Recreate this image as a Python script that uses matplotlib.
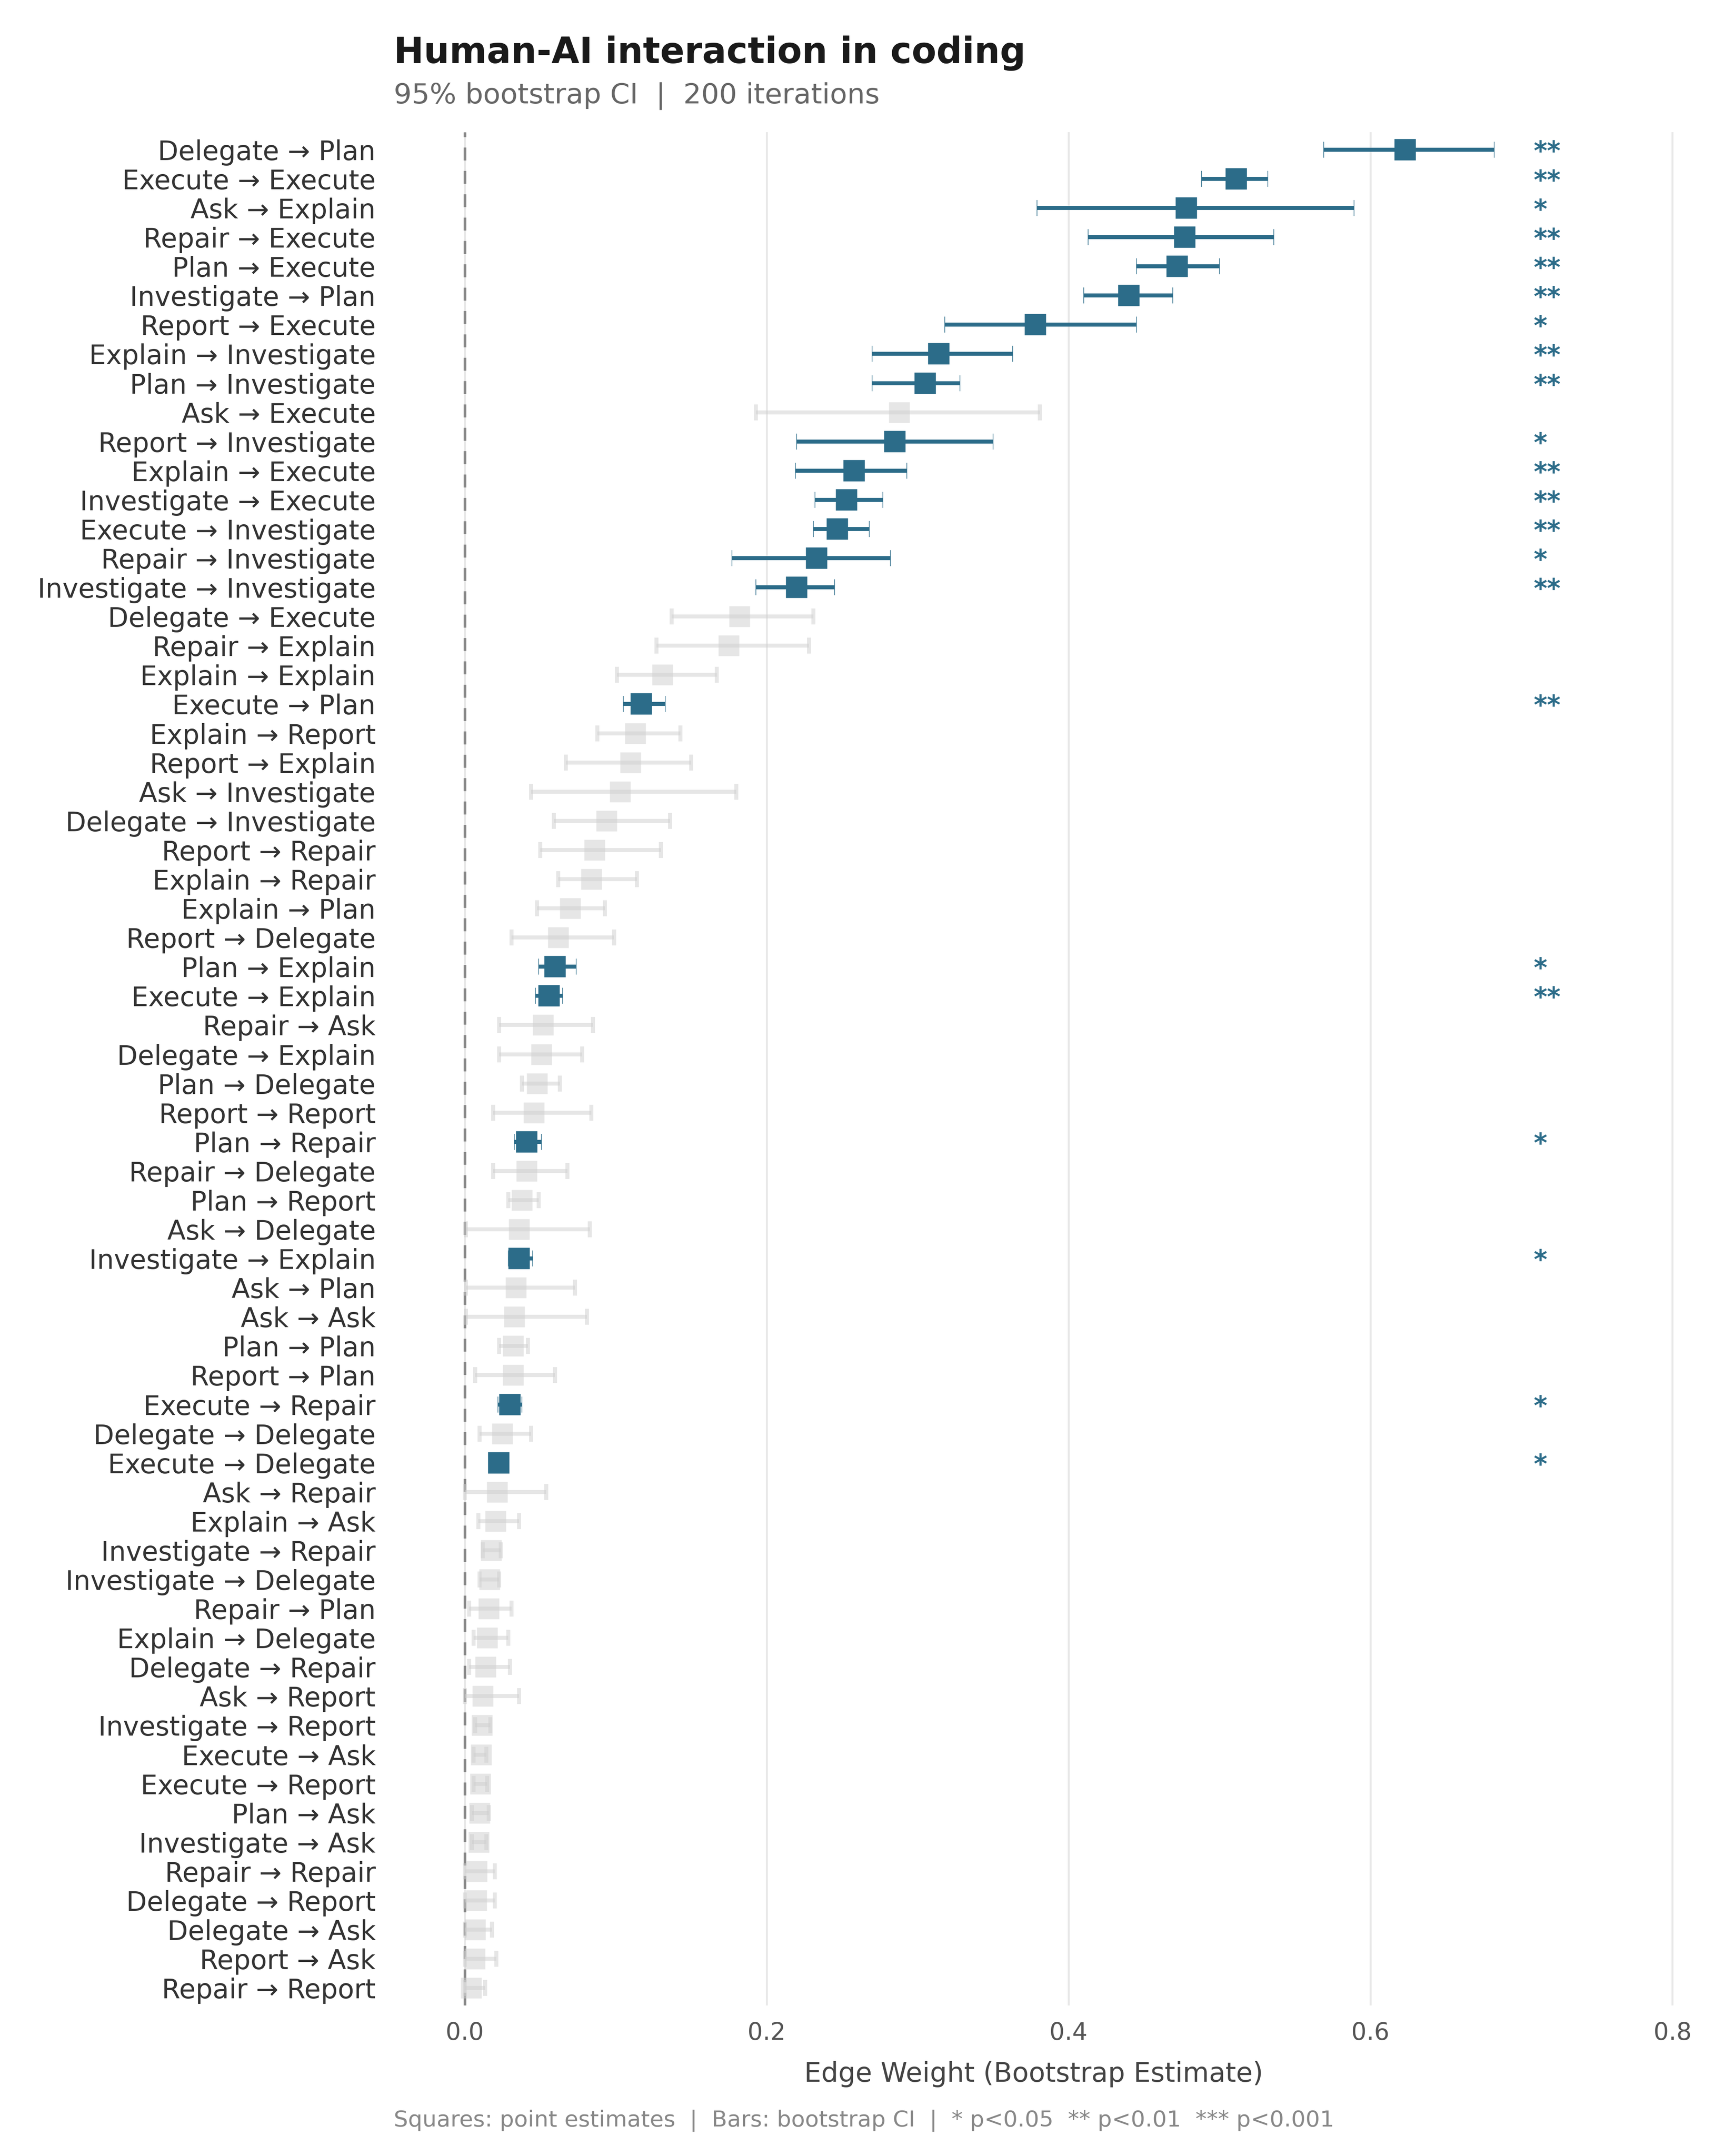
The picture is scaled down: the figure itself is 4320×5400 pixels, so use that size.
import matplotlib
matplotlib.use("Agg")
import matplotlib.pyplot as plt

# edges top -> bottom
edges = [
    "Delegate → Plan", "Execute → Execute", "Ask → Explain", "Repair → Execute",
    "Plan → Execute", "Investigate → Plan", "Report → Execute", "Explain → Investigate",
    "Plan → Investigate", "Ask → Execute", "Report → Investigate", "Explain → Execute",
    "Investigate → Execute", "Execute → Investigate", "Repair → Investigate",
    "Investigate → Investigate", "Delegate → Execute", "Repair → Explain",
    "Explain → Explain", "Execute → Plan", "Explain → Report", "Report → Explain",
    "Ask → Investigate", "Delegate → Investigate", "Report → Repair", "Explain → Repair",
    "Explain → Plan", "Report → Delegate", "Plan → Explain", "Execute → Explain",
    "Repair → Ask", "Delegate → Explain", "Plan → Delegate", "Report → Report",
    "Plan → Repair", "Repair → Delegate", "Plan → Report", "Ask → Delegate",
    "Investigate → Explain", "Ask → Plan", "Ask → Ask", "Plan → Plan", "Report → Plan",
    "Execute → Repair", "Delegate → Delegate", "Execute → Delegate", "Ask → Repair",
    "Explain → Ask", "Investigate → Repair", "Investigate → Delegate", "Repair → Plan",
    "Explain → Delegate", "Delegate → Repair", "Ask → Report", "Investigate → Report",
    "Execute → Ask", "Execute → Report", "Plan → Ask", "Investigate → Ask",
    "Repair → Repair", "Delegate → Report", "Delegate → Ask", "Report → Ask",
    "Repair → Report",
]

estimate = [
    0.623, 0.511, 0.478, 0.477, 0.472, 0.440, 0.378, 0.314, 0.305, 0.288, 0.285, 0.258,
    0.253, 0.247, 0.233, 0.220, 0.182, 0.175, 0.131, 0.117, 0.113, 0.110, 0.103, 0.094,
    0.086, 0.084, 0.070, 0.062, 0.060, 0.056, 0.052, 0.051, 0.048, 0.046, 0.041, 0.041,
    0.038, 0.036, 0.036, 0.034, 0.033, 0.032, 0.032, 0.030, 0.025, 0.0226, 0.0216, 0.0206,
    0.0175, 0.0165, 0.016, 0.015, 0.014, 0.012, 0.0115, 0.011, 0.0105, 0.010, 0.0095,
    0.008, 0.0078, 0.007, 0.0068, 0.0044,
]

ci_low = [
    0.569, 0.488, 0.379, 0.413, 0.445, 0.410, 0.318, 0.270, 0.270, 0.193, 0.220, 0.219,
    0.232, 0.231, 0.177, 0.193, 0.137, 0.127, 0.101, 0.105, 0.088, 0.067, 0.044, 0.059,
    0.050, 0.062, 0.048, 0.031, 0.049, 0.047, 0.023, 0.023, 0.038, 0.019, 0.033, 0.019,
    0.029, 0.001, 0.029, 0.001, 0.001, 0.023, 0.007, 0.022, 0.010, 0.020, 0.000, 0.009,
    0.012, 0.010, 0.003, 0.006, 0.003, 0.000, 0.007, 0.006, 0.006, 0.005, 0.005,
    0.000, 0.000, 0.000, 0.000, 0.000,
]

ci_high = [
    0.682, 0.532, 0.589, 0.536, 0.500, 0.469, 0.445, 0.363, 0.328, 0.381, 0.350, 0.293,
    0.277, 0.268, 0.282, 0.245, 0.231, 0.228, 0.167, 0.133, 0.143, 0.150, 0.180, 0.136,
    0.130, 0.114, 0.093, 0.099, 0.074, 0.065, 0.085, 0.078, 0.063, 0.084, 0.051, 0.068,
    0.049, 0.083, 0.045, 0.073, 0.081, 0.042, 0.060, 0.038, 0.044, 0.025, 0.054, 0.036,
    0.024, 0.023, 0.031, 0.029, 0.030, 0.036, 0.017, 0.0145, 0.015, 0.016, 0.0145,
    0.020, 0.020, 0.018, 0.021, 0.0135,
]

stars = [
    "**", "**", "*", "**", "**", "**", "*", "**", "**", "", "*", "**",
    "**", "**", "*", "**", "", "", "", "**", "", "", "", "",
    "", "", "", "", "*", "**", "", "", "", "", "*", "",
    "", "", "*", "", "", "", "", "*", "", "*", "", "",
    "", "", "", "", "", "", "", "", "", "", "",
    "", "", "", "", "",
]

SIG = "#2c6c89"
NS = "#cfcfcf"

fig = plt.figure(figsize=(12, 15), dpi=360)
ax = fig.add_axes([0.2282, 0.0698, 0.9704 - 0.2282, 0.9387 - 0.0698])

for i, lab in enumerate(edges):
    est = estimate[i]
    err = [[est - ci_low[i]], [ci_high[i] - est]]
    if stars[i]:
        ax.errorbar(est, i, xerr=err, fmt="s", color=SIG, ms=10.5, mec=SIG, mew=0.3,
                    ecolor=SIG, elinewidth=2.0, capsize=4, capthick=2, zorder=3)
        ax.text(0.708, i, stars[i], color=SIG, fontsize=13, fontweight="bold",
                ha="left", va="center_baseline", zorder=4)
    else:
        ax.errorbar(est, i, xerr=err, fmt="none", ecolor=NS, elinewidth=2.0,
                    capsize=4, capthick=2, alpha=0.5, zorder=2)
        ax.plot(est, i, "s", color=NS, ms=10.5, mec="none", alpha=0.5, zorder=2)

ax.axvline(0, color="#888888", lw=1.3, ls=(0, (5, 4)), zorder=1)

ax.set_yticks(range(len(edges)))
ax.set_yticklabels(edges, fontsize=13.4, color="#333333")
ax.set_ylim(len(edges) - 0.4, -0.6)
ax.set_xlim(-0.047, 0.801)
ax.set_xticks([0.0, 0.2, 0.4, 0.6, 0.8])
ax.set_xticklabels(["0.0", "0.2", "0.4", "0.6", "0.8"], fontsize=12, color="#555555")
ax.tick_params(axis="y", length=0, pad=9)
ax.tick_params(axis="x", length=0, pad=8)
ax.grid(axis="x", color="#e8e8e8", lw=1.0, zorder=0)
ax.set_axisbelow(True)
for s in ax.spines.values():
    s.set_visible(False)

ax.set_xlabel("Edge Weight (Bootstrap Estimate)", fontsize=13.5, color="#444444", labelpad=8)

fig.text(0.2282, 0.9755, "Human-AI interaction in coding", fontsize=18, fontweight="bold",
         color="#1a1a1a", ha="left", va="center")
fig.text(0.2282, 0.9555, "95% bootstrap CI  |  200 iterations", fontsize=14.1,
         color="#666666", ha="left", va="center")
fig.text(0.2282, 0.0165,
         "Squares: point estimates  |  Bars: bootstrap CI  |  * p<0.05  ** p<0.01  *** p<0.001",
         fontsize=11.3, color="#888888", ha="left", va="center")

fig.savefig("out.png", dpi=360, facecolor="white")
